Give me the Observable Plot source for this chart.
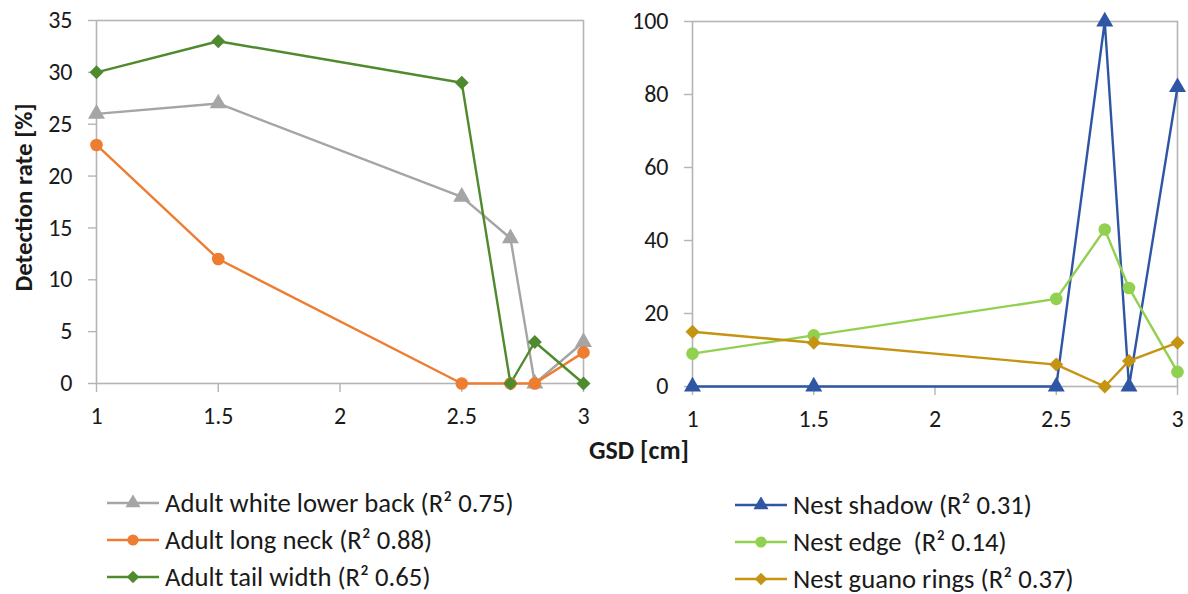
<!DOCTYPE html>
<html>
<head>
<meta charset="utf-8">
<script src="https://cdn.jsdelivr.net/npm/d3@7"></script>
<script src="https://cdn.jsdelivr.net/npm/@observablehq/plot@0.6"></script>
<style>
  html, body { margin: 0; padding: 0; background: #fff; }
  #root { position: relative; width: 1188px; height: 594px; overflow: hidden; font-family: Carlito, Lato, sans-serif; color: #1a1a1a; }
  .chart { position: absolute; top: 0; }
  svg.chart text { font-size: 24px !important; font-family: Carlito, Lato, sans-serif !important; }
  .ylabel { position: absolute; font-weight: bold; font-size: 25px; transform: rotate(-90deg); transform-origin: center; white-space: nowrap; line-height: 1; }
  .xlabel { position: absolute; font-weight: bold; font-size: 26px; white-space: nowrap; line-height: 1; }
  .legend { position: absolute; font-size: 26.7px; }
  .legend .row { display: flex; align-items: center; height: 37px; white-space: pre; line-height: 1; }
  .legend svg { margin-right: 6px; }
</style>
</head>
<body>
<div id="root"></div>
<script>
// ---- data ----
const gsd = [1, 1.5, 2.5, 2.7, 2.8, 3];
const xTicks = [1, 1.5, 2, 2.5, 3];

const adultNames = ["Adult white lower back (R² 0.75)", "Adult long neck (R² 0.88)", "Adult tail width (R² 0.65)"];
const adultWhiteLowerBack = [26, 27, 18, 14, 0, 4];
const adultLongNeck = [23, 12, 0, 0, 0, 3];
const adultTailWidth = [30, 33, 29, 0, 4, 0];
const adultColors = ["#a5a5a5", "#ed7d31", "#4f8a2e"];
const adultSymbols = ["triangle", "circle", "diamond2"];
const adultYTicks = [0, 5, 10, 15, 20, 25, 30, 35];

const nestNames = ["Nest shadow (R² 0.31)", "Nest edge  (R² 0.14)", "Nest guano rings (R² 0.37)"];
const nestShadow = [0, 0, 0, 100, 0, 82];
const nestEdge = [9, 14, 24, 43, 27, 4];
const nestGuanoRings = [15, 12, 6, 0, 7, 12];
const nestColors = ["#2e56a5", "#92d050", "#c49412"];
const nestSymbols = ["triangle", "circle", "diamond2"];
const nestYTicks = [0, 20, 40, 60, 80, 100];

const yLabel = "Detection rate [%]";
const xLabel = "GSD [cm]";

// ---- build ----
function table(names, series) {
  return names.flatMap((name, i) => gsd.map((x, j) => ({ series: name, x, y: series[i][j] })));
}
const adultData = table(adultNames, [adultWhiteLowerBack, adultLongNeck, adultTailWidth]);
const nestData = table(nestNames, [nestShadow, nestEdge, nestGuanoRings]);

const root = document.getElementById("root");
const font = "Carlito, Lato, sans-serif";

function makeChart(data, names, colors, symbols, yMax, yTicks, opts) {
  return Plot.plot({
    width: opts.width,
    height: opts.height,
    marginLeft: opts.marginLeft,
    marginRight: opts.marginRight,
    marginTop: opts.marginTop,
    marginBottom: opts.marginBottom,
    style: { fontFamily: font, fontSize: "24px", color: "#1a1a1a", background: "#fff", overflow: "visible" },
    x: { domain: [1, 3] },
    y: { domain: [0, yMax] },
    color: { domain: names, range: colors },
    symbol: { domain: names, range: symbols },
    marks: [
      Plot.frame({ stroke: "#b4b4b4", strokeWidth: 1.6 }),
      Plot.axisX({ ticks: xTicks, tickFormat: d => String(d), fontSize: 24, tickSize: 9, tickPadding: 14, stroke: "#b4b4b4", strokeWidth: 1.4, label: null, fill: "#1a1a1a" }),
      Plot.axisY({ ticks: yTicks, tickFormat: d => String(d), fontSize: 24, tickSize: 8, tickPadding: 16, stroke: "#b4b4b4", strokeWidth: 1.4, label: null, fill: "#1a1a1a" }),
      Plot.line(data, { x: "x", y: "y", z: "series", stroke: "series", strokeWidth: 2.4, curve: "linear" }),
      Plot.dot(data, { x: "x", y: "y", symbol: "series", fill: "series", stroke: "none", r: 6.3 })
    ]
  });
}

const left = makeChart(adultData, adultNames, adultColors, adultSymbols, 35, adultYTicks,
  { width: 600, height: 440, marginLeft: 96, marginRight: 17, marginTop: 20, marginBottom: 57 });
left.classList.add("chart");
left.style.left = "0px";
root.appendChild(left);

const right = makeChart(nestData, nestNames, nestColors, nestSymbols, 100, nestYTicks,
  { width: 588, height: 443, marginLeft: 92, marginRight: 11, marginTop: 21, marginBottom: 57 });
right.classList.add("chart");
right.style.left = "600px";
root.appendChild(right);

// axis titles
const yl = document.createElement("div");
yl.className = "ylabel";
yl.textContent = yLabel;
root.appendChild(yl);
yl.style.left = (23 - yl.offsetWidth / 2) + "px";
yl.style.top = (197 - yl.offsetHeight / 2) + "px";

const xl = document.createElement("div");
xl.className = "xlabel";
xl.textContent = xLabel;
root.appendChild(xl);
xl.style.left = (639 - xl.offsetWidth / 2) + "px";
xl.style.top = (450 - xl.offsetHeight / 2) + "px";

// legends
function symbolPath(name, r) {
  const map = { triangle: d3.symbolTriangle, circle: d3.symbolCircle, diamond2: d3.symbolDiamond2 };
  return d3.symbol(map[name], Math.PI * r * r)();
}
function legend(names, colors, symbols, x, yCenter) {
  const div = document.createElement("div");
  div.className = "legend";
  div.style.left = x + "px";
  div.style.top = (yCenter - 18.5) + "px";
  names.forEach((n, i) => {
    const row = document.createElement("div");
    row.className = "row";
    const svg = d3.create("svg").attr("width", 52).attr("height", 16);
    svg.append("line").attr("x1", 0).attr("x2", 52).attr("y1", 8).attr("y2", 8).attr("stroke", colors[i]).attr("stroke-width", 2.4);
    svg.append("path").attr("d", symbolPath(symbols[i], 5.6)).attr("transform", "translate(26,8)").attr("fill", colors[i]);
    row.appendChild(svg.node());
    const t = document.createElement("span");
    t.textContent = n;
    row.appendChild(t);
    div.appendChild(row);
  });
  root.appendChild(div);
}
legend(adultNames, adultColors, adultSymbols, 107, 503);
legend(nestNames, nestColors, nestSymbols, 735, 505);
</script>
</body>
</html>
